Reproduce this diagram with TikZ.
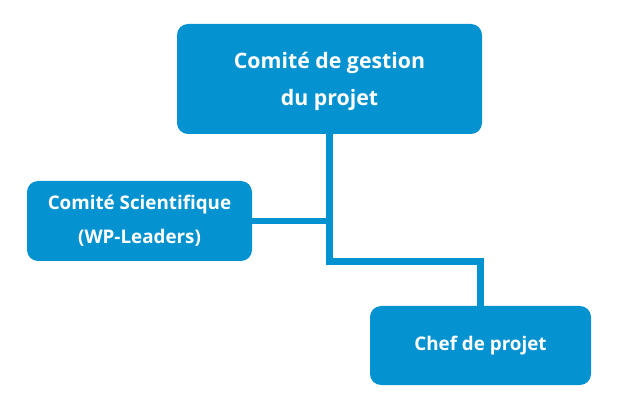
\documentclass[tikz,border=0pt]{standalone}
\usepackage{fontspec}
\setmainfont{Open Sans}
\definecolor{boxblue}{RGB}{4,146,208}
\begin{document}
\begin{tikzpicture}[x=1pt, y=-1pt,
  box/.style={fill=boxblue, text=white, rounded corners=11pt, align=center,
    font=\bfseries, inner sep=0pt},
  link/.style={draw=boxblue, line width=6.5pt}]
  \useasboundingbox (0,0) rectangle (619,406);
  \node[box, minimum width=305pt, minimum height=110pt, text depth=0pt,
    font=\fontsize{21.3}{37}\bfseries]
    (gestion) at (329.5,79) {Comité de gestion\\du projet};
  \node[box, minimum width=225pt, minimum height=80pt, font=\fontsize{18.8}{34}\bfseries]
    (scientifique) at (139.5,221) {Comité Scientifique\\(WP-Leaders)};
  \node[box, minimum width=221pt, minimum height=79pt, font=\fontsize{18.8}{34}\bfseries]
    (chef) at (480.5,345.5) {Chef de projet};
  \coordinate (bend) at (331,261.5);
  \draw[link] (gestion.south) -- (gestion.south |- bend) -| (chef.north);
  \draw[link] (scientifique.east) -- (scientifique.east -| gestion.south);
\end{tikzpicture}
\end{document}
